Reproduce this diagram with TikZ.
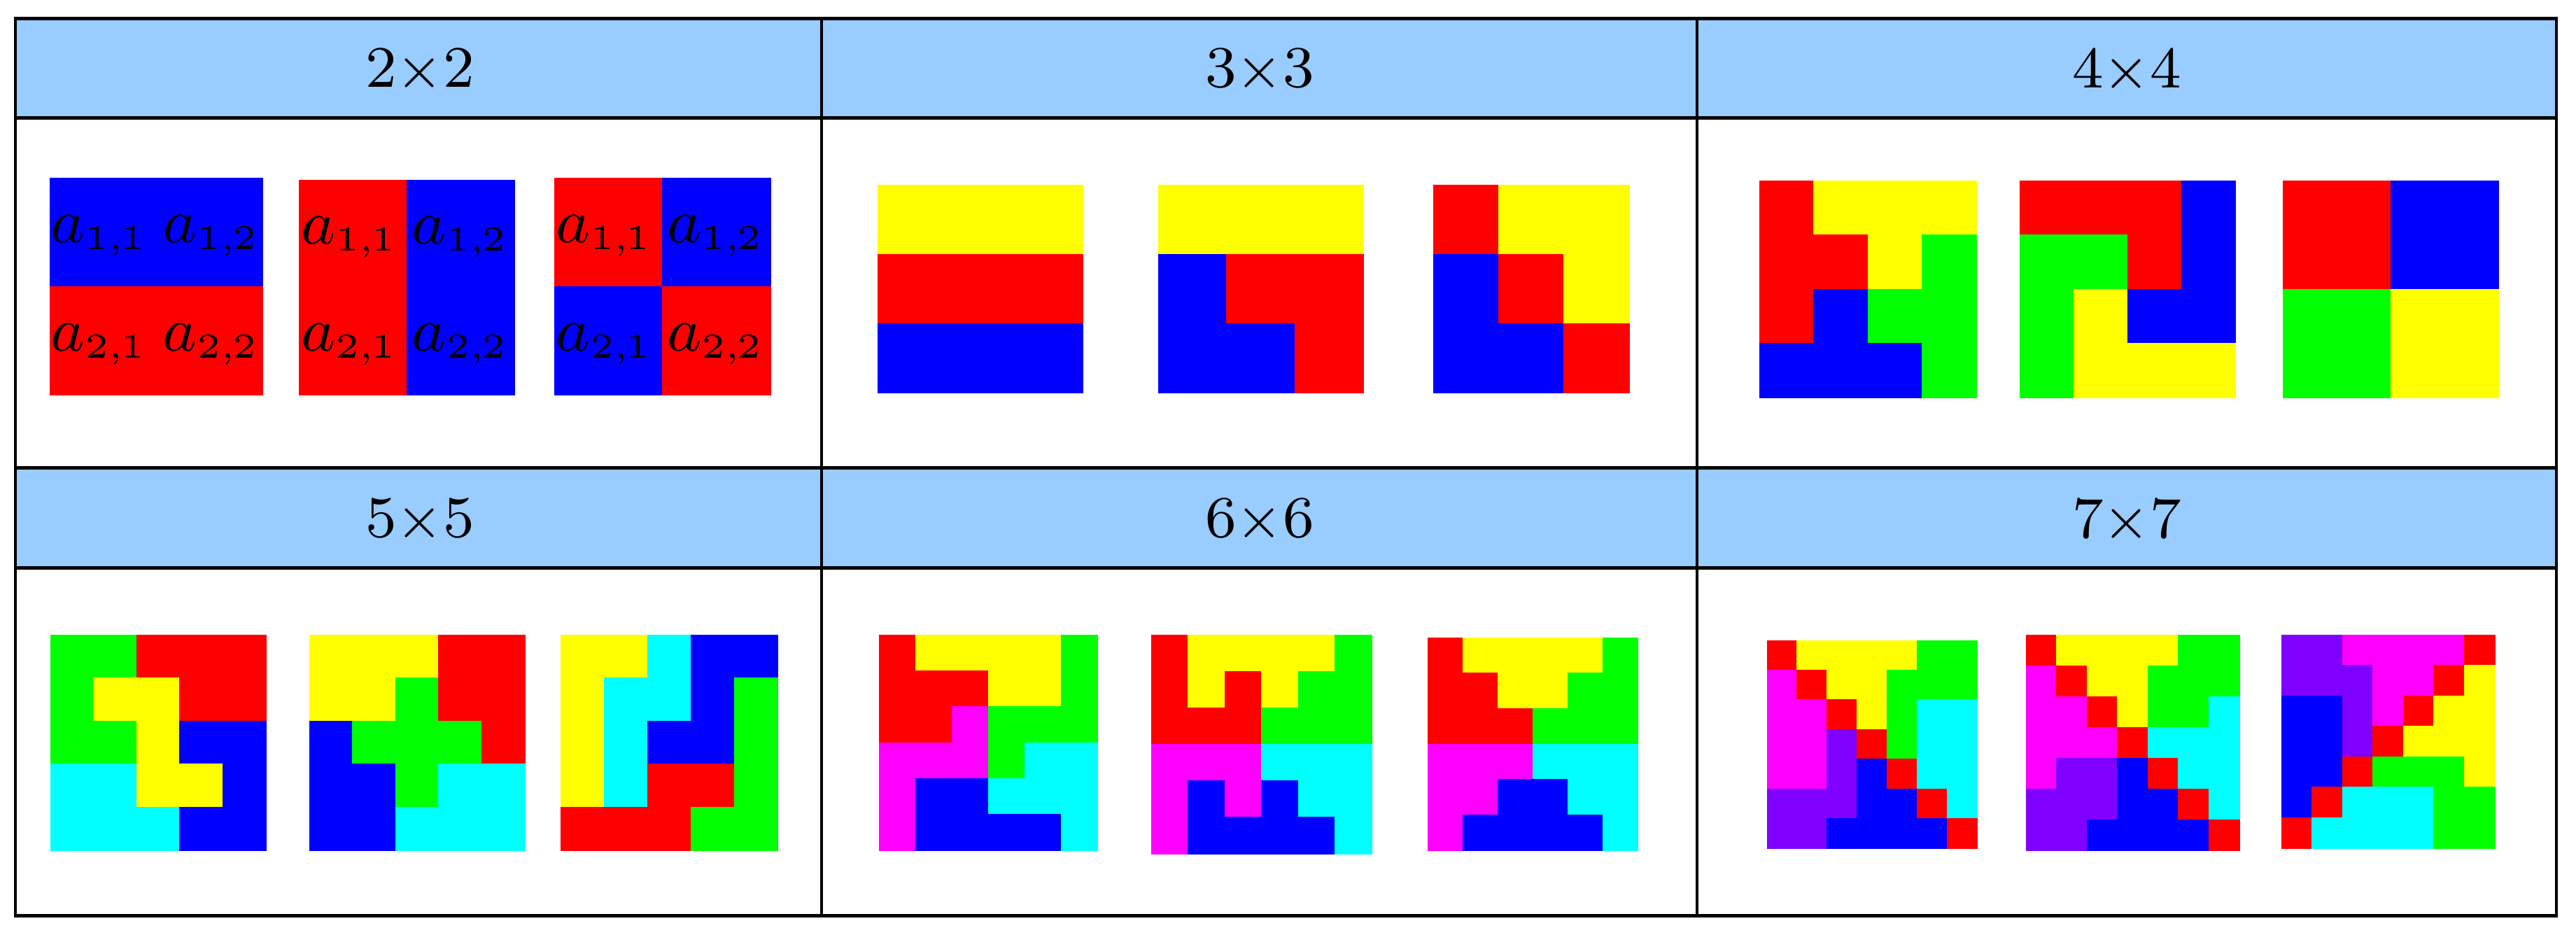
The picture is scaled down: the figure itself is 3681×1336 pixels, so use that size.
\documentclass[tikz,border=0pt]{standalone}
\definecolor{cR}{RGB}{255,0,0}
\definecolor{cB}{RGB}{0,0,255}
\definecolor{cY}{RGB}{255,255,0}
\definecolor{cG}{RGB}{0,255,0}
\definecolor{cC}{RGB}{0,255,255}
\definecolor{cM}{RGB}{255,0,255}
\definecolor{cP}{RGB}{128,0,255}
\definecolor{hdrblue}{RGB}{153,204,255}
\newcommand\pgrid[6]{%
  \pgfmathsetmacro\gw{(#3-#1)/#5}%
  \pgfmathsetmacro\gh{(#4-#2)/#5}%
  \foreach \rw [count=\ri from 0] in {#6}{%
    \foreach \cl [count=\ci from 0] in \rw{%
      \path[fill=c\cl,draw=c\cl,line width=0.1pt]
        ({#1+\ci*\gw},{#2+\ri*\gh}) rectangle ({#1+(\ci+1)*\gw},{#2+(\ri+1)*\gh});
    }%
  }%
}
\newcommand\alab[2]{$a_{\mbox{\fontsize{5}{6}\selectfont #1,\kern-0.3pt#2}}$}
\tikzset{
  hdr/.style={inner sep=0pt,font=\fontsize{8.4}{10}\selectfont},
  lab/.style={inner sep=0pt,font=\fontsize{9}{11}\selectfont},
  hline/.style={line width=0.5pt,black},
  vline/.style={line width=0.35pt,black},
}
\begin{document}
\begin{tikzpicture}[x=0.1pt,y=-0.1pt]
\useasboundingbox (0,0) rectangle (3681,1336);
\fill[white] (0,0) rectangle (3681,1336);
% header fills
\fill[hdrblue] (22,26) rectangle (3653,168);
\fill[hdrblue] (22,668) rectangle (3653,811);
% table lines
\foreach \yy in {26,168,668,811,1308}{\draw[hline] (20,\yy) -- (3655,\yy);}
\draw[vline,line width=0.45pt] (22,24) -- (22,1310);
\draw[vline,line width=0.45pt] (3653,24) -- (3653,1310);
\draw[vline] (1174,26) -- (1174,1308);
\draw[vline] (2425,26) -- (2425,1308);
% headers
\node[hdr] (h2) at (600,101) {2$\times$2};
\node[hdr] (h3) at (1800,101) {3$\times$3};
\node[hdr] (h4) at (3039,101) {4$\times$4};
\node[hdr] (h5) at (600,744) {5$\times$5};
\node[hdr] (h6) at (1800,744) {6$\times$6};
\node[hdr] (h7) at (3039,744) {7$\times$7};
% 2x2
\pgrid{71}{254}{375}{564}{2}{{B,B},{R,R}}
\pgrid{427}{257}{735}{564}{2}{{R,B},{R,B}}
\pgrid{792}{254}{1101}{564}{2}{{R,B},{B,R}}
\node[lab] (p1a11) at (142,337) {\alab{1}{1}};
\node[lab] (p1a12) at (302,337) {\alab{1}{2}};
\node[lab] (p1a21) at (142,492) {\alab{2}{1}};
\node[lab] (p1a22) at (302,492) {\alab{2}{2}};
\node[lab] (p2a11) at (500,339) {\alab{1}{1}};
\node[lab] (p2a12) at (658,339) {\alab{1}{2}};
\node[lab] (p2a21) at (500,492) {\alab{2}{1}};
\node[lab] (p2a22) at (658,492) {\alab{2}{2}};
\node[lab] (p3a11) at (864,337) {\alab{1}{1}};
\node[lab] (p3a12) at (1023,337) {\alab{1}{2}};
\node[lab] (p3a21) at (864,492) {\alab{2}{1}};
\node[lab] (p3a22) at (1023,492) {\alab{2}{2}};
% 3x3
\pgrid{1254}{264}{1547}{561}{3}{{Y,Y,Y},{R,R,R},{B,B,B}}
\pgrid{1655}{264}{1948}{561}{3}{{Y,Y,Y},{B,R,R},{B,B,R}}
\pgrid{2048}{264}{2328}{561}{3}{{R,Y,Y},{B,R,Y},{B,B,R}}
% 4x4
\pgrid{2514}{258}{2824}{568}{4}{{R,Y,Y,Y},{R,R,Y,G},{R,B,G,G},{B,B,B,G}}
\pgrid{2886}{258}{3194}{568}{4}{{R,R,R,B},{G,G,R,B},{G,Y,B,B},{G,Y,Y,Y}}
\pgrid{3262}{258}{3570}{568}{4}{{R,R,B,B},{R,R,B,B},{G,G,Y,Y},{G,G,Y,Y}}
% 5x5
\pgrid{72}{907}{380}{1215}{5}{{G,G,R,R,R},{G,Y,Y,R,R},{G,G,Y,B,B},{C,C,Y,Y,B},{C,C,C,B,B}}
\pgrid{442}{907}{750}{1215}{5}{{Y,Y,Y,R,R},{Y,Y,G,R,R},{B,G,G,G,R},{B,B,G,C,C},{B,B,C,C,C}}
\pgrid{801}{907}{1111}{1215}{5}{{Y,Y,C,B,B},{Y,C,C,B,G},{Y,C,B,B,G},{Y,C,R,R,G},{R,R,R,G,G}}
% 6x6
\pgrid{1256}{907}{1568}{1215}{6}{{R,Y,Y,Y,Y,G},{R,R,R,Y,Y,G},{R,R,M,G,G,G},{M,M,M,G,C,C},{M,B,B,C,C,C},{M,B,B,B,B,C}}
\pgrid{1645}{907}{1960}{1220}{6}{{R,Y,Y,Y,Y,G},{R,Y,R,Y,G,G},{R,R,R,G,G,G},{M,M,M,C,C,C},{M,B,M,B,C,C},{M,B,B,B,B,C}}
\pgrid{2040}{911}{2340}{1215}{6}{{R,Y,Y,Y,Y,G},{R,R,Y,Y,G,G},{R,R,R,G,G,G},{M,M,M,C,C,C},{M,M,B,B,C,C},{M,B,B,B,B,C}}
% 7x7
\pgrid{2525}{915}{2825}{1212}{7}{{R,Y,Y,Y,Y,G,G},{M,R,Y,Y,G,G,G},{M,M,R,Y,G,C,C},{M,M,P,R,G,C,C},{M,M,P,B,R,C,C},{P,P,P,B,B,R,C},{P,P,B,B,B,B,R}}
\pgrid{2895}{907}{3200}{1215}{7}{{R,Y,Y,Y,Y,G,G},{M,R,Y,Y,G,G,G},{M,M,R,Y,G,G,C},{M,M,M,R,C,C,C},{M,P,P,B,R,C,C},{P,P,P,B,B,R,C},{P,P,B,B,B,B,R}}
\pgrid{3260}{907}{3565}{1212}{7}{{P,P,M,M,M,M,R},{P,P,P,M,M,R,Y},{B,B,P,M,R,Y,Y},{B,B,P,R,Y,Y,Y},{B,B,R,G,G,G,Y},{B,R,C,C,C,G,G},{R,C,C,C,C,G,G}}
\end{tikzpicture}
\end{document}
